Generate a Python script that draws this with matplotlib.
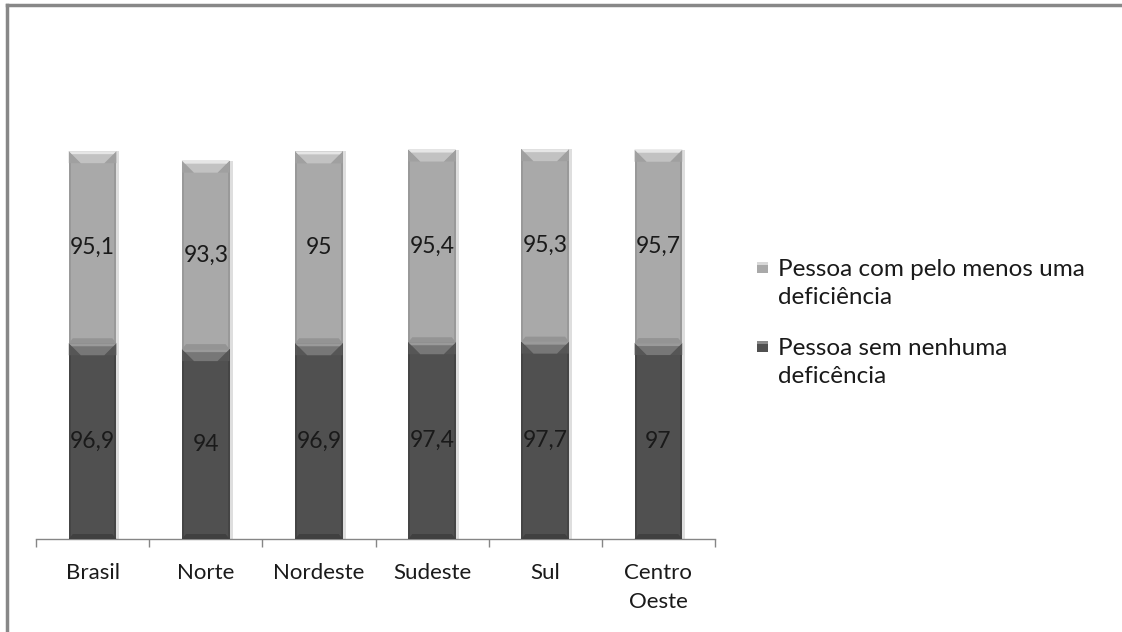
import numpy as np
import matplotlib.pyplot as plt
from matplotlib.patches import Polygon, Rectangle
from matplotlib.lines import Line2D

plt.rcParams['font.family'] = ['Lato', 'DejaVu Sans']

# Dados por região
regioes = ['Brasil', 'Norte', 'Nordeste', 'Sudeste', 'Sul', 'Centro\nOeste']
sem_deficiencia = [96.9, 94, 96.9, 97.4, 97.7, 97]
com_deficiencia = [95.1, 93.3, 95, 95.4, 95.3, 95.7]
nomes_series = ['Pessoa com pelo menos uma\ndeficiência', 'Pessoa sem nenhuma\ndeficência']

cor_clara = '#a9a9a9'
cor_escura = '#505050'

W, H = 1122, 632
fig = plt.figure(figsize=(W / 100, H / 100), dpi=100)
ax = fig.add_axes([36 / W, (H - 539) / H, 679 / W, 505 / H])

x = np.arange(len(regioes))
largura = 0.42
barras_sem = ax.bar(x, sem_deficiencia, width=largura, color=cor_escura, zorder=2)
barras_com = ax.bar(x, com_deficiencia, bottom=sem_deficiencia, width=largura,
                    color=cor_clara, zorder=2)

ax.set_xlim(-0.5, len(regioes) - 0.5)
ax.set_ylim(0, 250)

# conversão de pixels para unidades de dados
px_x = len(regioes) / 679
px_y = 250 / 505


def chanfro(ax, ret, cor_topo, cor_luz, cor_canto, cor_lado, cor_base):
    # efeito de relevo: faixa clara no topo, laterais e base mais escuras
    x0, y0 = ret.get_x(), ret.get_y()
    w, h = ret.get_width(), ret.get_height()
    x1, y1 = x0 + w, y0 + h
    d = 12
    dx, dy = d * px_x, d * px_y
    # laterais
    ax.add_patch(Rectangle((x0, y0), 2 * px_x, h, color=cor_lado, lw=0, zorder=3))
    ax.add_patch(Rectangle((x1 - 2 * px_x, y0), 2 * px_x, h, color=cor_lado, lw=0, zorder=3))
    # base
    ax.add_patch(Polygon([(x0, y0), (x1, y0), (x1 - 4 * px_x, y0 + 5 * px_y),
                          (x0 + 4 * px_x, y0 + 5 * px_y)], color=cor_base, lw=0, zorder=3))
    # cantos do topo
    ax.add_patch(Polygon([(x0, y1), (x0 + dx, y1 - dy), (x0, y1 - dy)],
                         color=cor_canto, lw=0, zorder=3))
    ax.add_patch(Polygon([(x1, y1), (x1 - dx, y1 - dy), (x1, y1 - dy)],
                         color=cor_canto, lw=0, zorder=3))
    # faixa do topo
    ax.add_patch(Polygon([(x0, y1), (x1, y1), (x1 - dx, y1 - dy), (x0 + dx, y1 - dy)],
                         color=cor_topo, lw=0, zorder=3))
    ax.add_patch(Polygon([(x0, y1), (x1, y1), (x1 - 3 * px_x, y1 - 3 * px_y),
                          (x0 + 3 * px_x, y1 - 3 * px_y)], color=cor_luz, lw=0, zorder=4))
    # sombra à direita
    ax.add_patch(Rectangle((x1, y0), 3 * px_x, h, color='#dedede', lw=0, zorder=1))


for ret in barras_sem:
    chanfro(ax, ret, '#777777', '#9a9a9a', '#565656', '#454545', '#404040')
for ret in barras_com:
    chanfro(ax, ret, '#c2c2c2', '#e6e6e6', '#a0a0a0', '#999999', '#949494')


def rotulo(v):
    return f'{v:g}'.replace('.', ',')


for serie in (barras_sem, barras_com):
    for ret in serie:
        v = ret.get_height()
        ax.text(ret.get_x() + ret.get_width() / 2, ret.get_y() + v / 2, rotulo(v),
                ha='center', va='center', fontsize=16.5, color='#1a1a1a', zorder=5)

# eixos
for lado in ('left', 'right', 'top'):
    ax.spines[lado].set_visible(False)
ax.spines['bottom'].set_color('#868686')
ax.spines['bottom'].set_linewidth(1)
ax.set_yticks([])
ax.set_xticks(x)
ax.set_xticklabels(regioes, fontsize=16, color='#1a1a1a', linespacing=1.6)
ax.set_xticks(np.arange(-0.5, len(regioes)), minor=True)
ax.tick_params(axis='x', which='major', length=0, pad=17)
ax.tick_params(axis='x', which='minor', length=6, color='#868686', width=1)

# legenda
entradas = [(nomes_series[0], cor_clara, '#d8d8d8', 259),
            (nomes_series[1], cor_escura, '#8a8a8a', 338)]
for texto, cor, luz, topo in entradas:
    fig.patches.append(Rectangle((757 / W, 1 - (topo + 14) / H), 11 / W, 11 / H,
                                 transform=fig.transFigure, color=cor, lw=0))
    fig.patches.append(Rectangle((757 / W, 1 - (topo + 6) / H), 11 / W, 3 / H,
                                 transform=fig.transFigure, color=luz, lw=0))
    fig.text(778 / W, 1 - topo / H, texto, fontsize=17.5, color='#1a1a1a',
             va='top', ha='left', linespacing=1.4)

# moldura
fig.add_artist(Line2D([7 / W, 1], [1 - 5 / H, 1 - 5 / H], color='#888888', lw=2.5,
                      transform=fig.transFigure))
fig.add_artist(Line2D([7 / W, 7 / W], [0, 1 - 5 / H], color='#888888', lw=2.5,
                      transform=fig.transFigure))

fig.savefig('out.png', dpi=100)
